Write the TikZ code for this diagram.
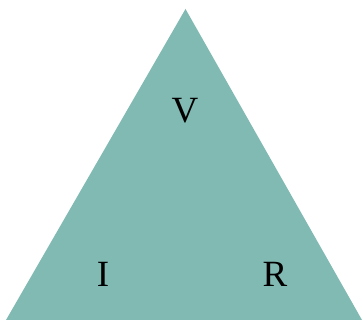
\documentclass[tikz,border=0pt]{standalone}
\usepackage{fontspec}
\setmainfont{Liberation Serif}
\definecolor{tealfill}{RGB}{128,186,179}
\begin{document}
\begin{tikzpicture}[x=1pt,y=1pt,
  lbl/.style={font=\fontsize{37}{40}\selectfont, text=black, inner sep=0pt, anchor=center}]
\useasboundingbox (0,0) rectangle (363,320);
\fill[tealfill] (6,0) coordinate (bl) -- (362,0) coordinate (br) -- (185.5,311) coordinate (top) -- cycle;
\node[lbl] (v) at (185,209) {V};
\node[lbl] (i) at (103,46) {I};
\node[lbl] (r) at (275,46) {R};
\end{tikzpicture}
\end{document}
